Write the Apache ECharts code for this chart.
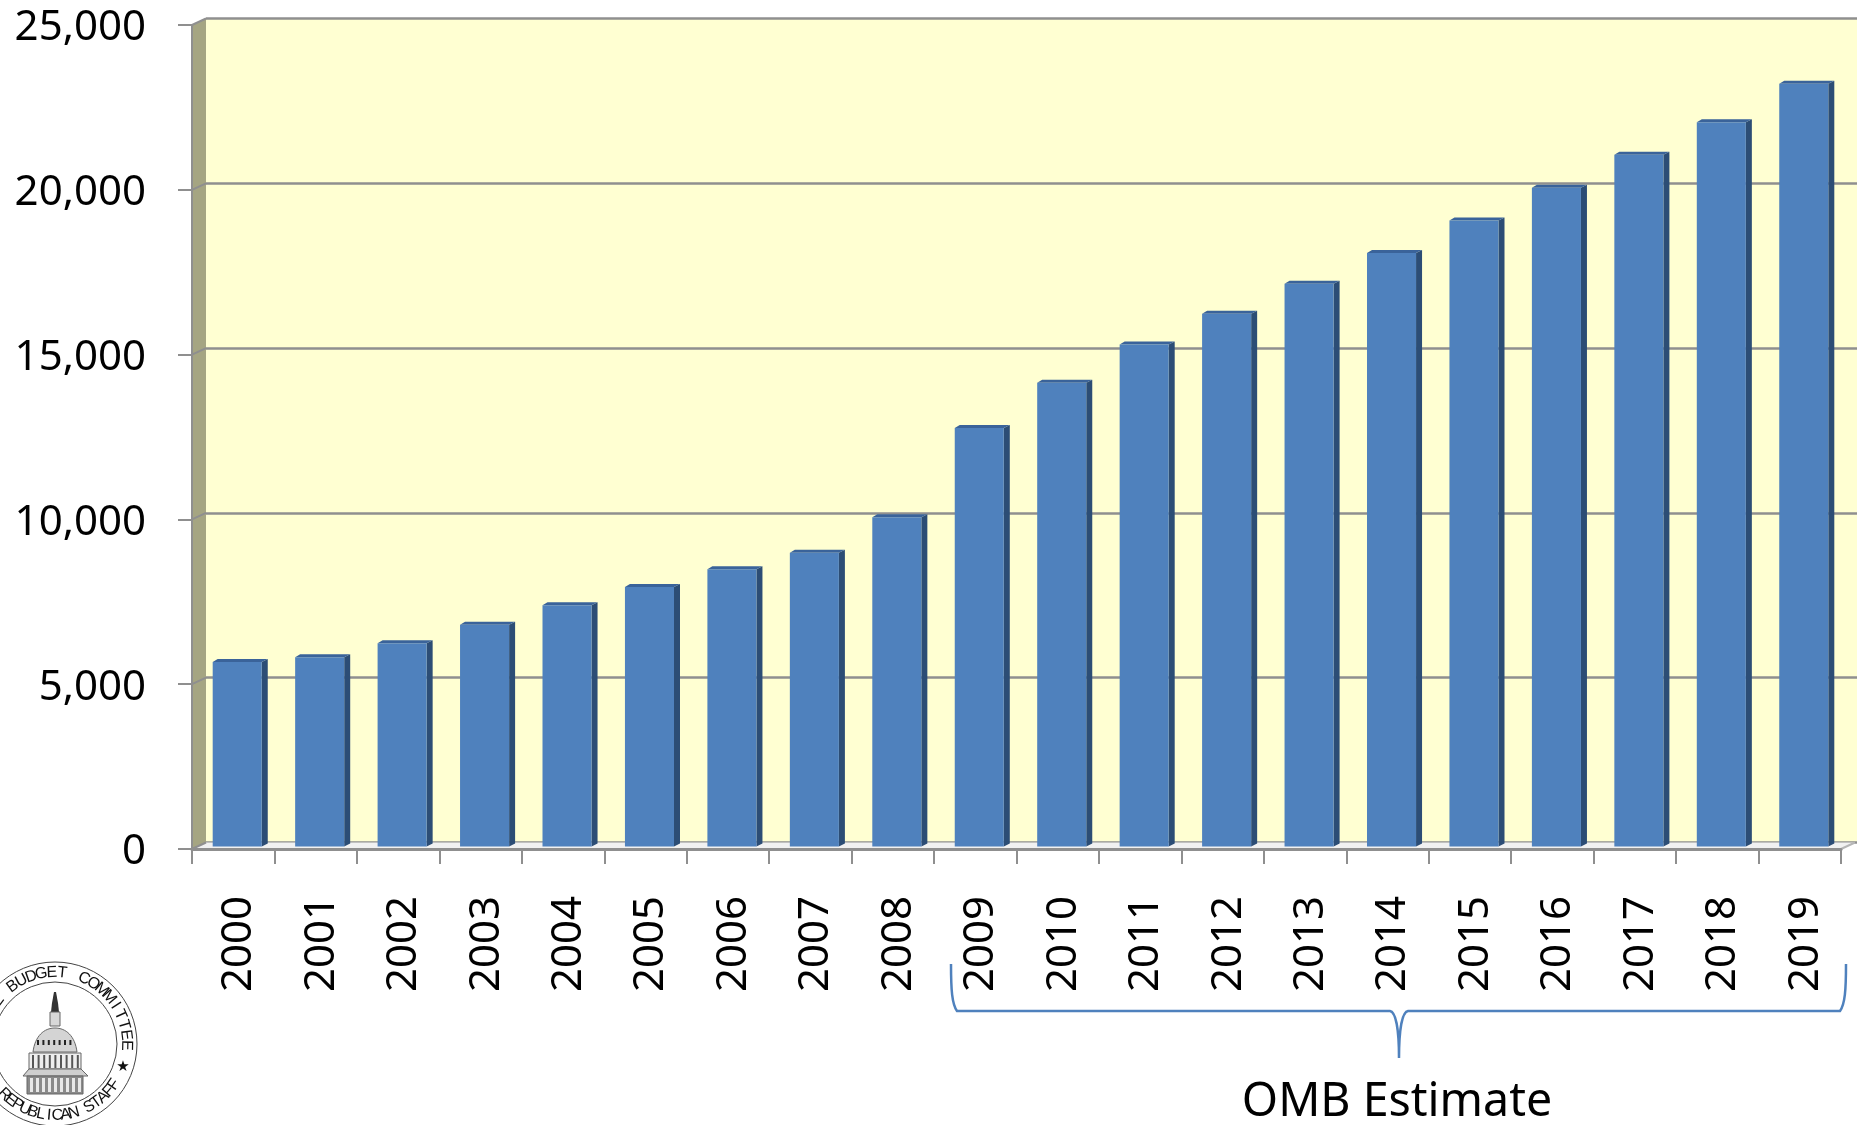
<!DOCTYPE html>
<html>
<head>
<meta charset="utf-8">
<title>OMB Estimate</title>
<style>
html, body { margin: 0; padding: 0; background: #fff; overflow: hidden; }
#main { width: 1865px; height: 1125px; }
</style>
<script src="https://cdn.jsdelivr.net/npm/echarts@6/dist/echarts.min.js"></script>
</head>
<body>
<div id="main"></div>
<script>
var years = ['2000', '2001', '2002', '2003', '2004', '2005', '2006', '2007', '2008', '2009',
	'2010', '2011', '2012', '2013', '2014', '2015', '2016', '2017', '2018', '2019'];
var debtValues = [5600, 5740, 6170, 6730, 7320, 7870, 8410, 8910, 9990, 12700,
	14070, 15230, 16160, 17070, 18010, 18990, 19990, 20990, 21970, 23140];
var yTicks = [0, 5000, 10000, 15000, 20000, 25000];
var braceLabel = 'OMB Estimate';

var labelFont = '"Noto Sans", sans-serif';
var gridGray = '#8f8f8f';
var depthX = 14, depthY = -6.5; // front plane to back wall

/* 柱子：正面、右侧面、顶面 */
function renderBar(params, api) {
	var top = api.coord([api.value(0), api.value(1)]);
	var base = api.coord([api.value(0), 0]);
	var w = api.size([1, 0])[0] * 0.595;
	var x0 = top[0] - w / 2 + 4, x1 = x0 + w;
	var t = top[1] - 2.5, b = base[1] - 2.5;
	return {
		type: 'group',
		children: [
			{ type: 'polygon', shape: { points: [[x1, t], [x1 + 6, t - 3], [x1 + 6, b - 3], [x1, b]] }, style: { fill: '#2c4d75' } },
			{ type: 'polygon', shape: { points: [[x0, t], [x0 + 5, t - 3], [x1 + 6, t - 3], [x1, t]] }, style: { fill: '#3a639a' } },
			{ type: 'rect', shape: { x: x0, y: t, width: w, height: b - t }, style: { fill: '#4f81bd' } }
		]
	};
}

/* 左侧墙和地面 */
function renderFrame(params, api) {
	var rect = params.coordSys;
	var l = rect.x, r = rect.x + rect.width, t = rect.y, b = rect.y + rect.height;
	var kids = [
		{ type: 'polygon', shape: { points: [[l, b], [l + depthX, b + depthY], [r + depthX, b + depthY], [r, b]] }, style: { fill: '#f1f1f1' } },
		{ type: 'polygon', shape: { points: [[l, t], [l + depthX, t + depthY], [l + depthX, b + depthY], [l, b]] }, style: { fill: '#a5a582' } },
		{ type: 'line', shape: { x1: r, y1: b, x2: r + depthX, y2: b + depthY }, style: { stroke: '#b5b5b5', lineWidth: 2 } }
	];
	for (var i = 0; i < yTicks.length; i++) {
		var p = api.coord([0, yTicks[i]]);
		kids.push({ type: 'line', shape: { x1: l, y1: p[1], x2: l + depthX, y2: p[1] + depthY }, style: { stroke: gridGray, lineWidth: 2 } });
	}
	return { type: 'group', children: kids };
}

/* 左下角印章 */
function sealParts() {
	var cx = 55, cy = 1044, kids = [];
	kids.push({ type: 'circle', shape: { cx: cx, cy: cy, r: 82 }, style: { fill: '#fff', stroke: '#444', lineWidth: 1 } });
	kids.push({ type: 'circle', shape: { cx: cx, cy: cy, r: 62 }, style: { fill: '#fff', stroke: '#444', lineWidth: 1 } });
	function arcText(str, startDeg, stepDeg, radius, flip) {
		for (var i = 0; i < str.length; i++) {
			if (str[i] == ' ') continue;
			var deg = startDeg + stepDeg * i, a = deg * Math.PI / 180;
			kids.push({
				type: 'text',
				x: cx + radius * Math.sin(a),
				y: cy - radius * Math.cos(a),
				rotation: flip ? -(deg - 180) * Math.PI / 180 : -a,
				style: { text: str[i], font: '16px "Liberation Sans", sans-serif', fill: '#111', align: 'center', verticalAlign: 'middle' }
			});
		}
	}
	arcText('E BUDGET', -53, 8.4, 71.5);
	arcText('COMMITTEE', 24, 8.4, 71.5);
	arcText('REPUBLICAN STAFF', 225, -6.7, 71.5, true);
	kids.push({ type: 'text', x: 123, y: 1067, style: { text: '★', font: '15px "DejaVu Sans", sans-serif', fill: '#111', align: 'center', verticalAlign: 'middle' } });
	// 国会大厦
	kids.push({ type: 'polygon', shape: { points: [[54, 992], [56, 992], [58, 1003], [59, 1012], [51, 1012], [52, 1003]] }, style: { fill: '#333' } });
	kids.push({ type: 'rect', shape: { x: 50, y: 1012, width: 10, height: 14 }, style: { fill: '#d8d8d8', stroke: '#666', lineWidth: 1 } });
	kids.push({ type: 'path', shape: { pathData: 'M33 1052 C35 1036 44 1028 55 1028 C66 1028 75 1036 77 1052 Z' }, style: { fill: '#d4d4d4', stroke: '#666', lineWidth: 1 } });
	for (var i = 0; i < 7; i++) {
		kids.push({ type: 'rect', shape: { x: 37 + i * 5.4, y: 1040, width: 2, height: 5 }, style: { fill: '#222' } });
	}
	kids.push({ type: 'rect', shape: { x: 29, y: 1053, width: 52, height: 16 }, style: { fill: '#eee', stroke: '#666', lineWidth: 1 } });
	kids.push({ type: 'polygon', shape: { points: [[29, 1069], [81, 1069], [88, 1076], [23, 1076]] }, style: { fill: '#cfcfcf', stroke: '#666', lineWidth: 1 } });
	kids.push({ type: 'rect', shape: { x: 27, y: 1076, width: 56, height: 18 }, style: { fill: '#8a8a8a', stroke: '#666', lineWidth: 1 } });
	for (var j = 0; j < 9; j++) {
		kids.push({ type: 'rect', shape: { x: 32 + j * 5.6, y: 1055, width: 2, height: 13 }, style: { fill: '#555' } });
		kids.push({ type: 'rect', shape: { x: 30 + j * 6, y: 1078, width: 3, height: 14 }, style: { fill: '#e8e8e8' } });
	}
	return kids;
}

/* 印章、大括号和说明文字 */
function renderNotes() {
	var kids = sealParts();
	kids.push({
		type: 'path',
		shape: { pathData: 'M951 964 C951 990 952 1004 957 1011 L1390 1011 C1396 1012 1399 1030 1399 1058 C1399 1030 1402 1012 1408 1011 L1840 1011 C1845 1004 1846 990 1846 964' },
		style: { fill: 'none', stroke: '#4f81bd', lineWidth: 2.5 }
	});
	kids.push({
		type: 'text',
		x: 1397,
		y: 1103,
		style: { text: braceLabel, font: '46.5px ' + labelFont, fill: '#000', align: 'center', verticalAlign: 'middle' }
	});
	return { type: 'group', children: kids };
}

var chart = echarts.init(document.getElementById('main'), null, { renderer: 'canvas' });
chart.setOption({
	animation: false,
	backgroundColor: '#fff',
	grid: [
		{ left: 192, top: 25, width: 1649, height: 824 },
		{ left: 206, top: 18.5, width: 1651, height: 824, show: true, backgroundColor: '#ffffd2', borderWidth: 0 }
	],
	xAxis: [{
		gridIndex: 0,
		type: 'category',
		data: years,
		z: 5,
		axisLine: { lineStyle: { color: gridGray, width: 3 } },
		axisTick: { show: true, alignWithLabel: false, length: 15, lineStyle: { color: gridGray, width: 2 } },
		axisLabel: { rotate: 90, interval: 0, margin: 47, verticalAlign: 'top', lineHeight: 12, color: '#000', fontFamily: labelFont, fontSize: 42 }
	}, {
		gridIndex: 1,
		type: 'category',
		data: years,
		show: false
	}],
	yAxis: [{
		gridIndex: 0,
		type: 'value',
		min: 0,
		max: 25000,
		interval: 5000,
		z: 5,
		splitLine: { show: false },
		axisLine: { show: true, lineStyle: { color: gridGray, width: 2 } },
		axisTick: { show: true, length: 14, lineStyle: { color: gridGray, width: 2 } },
		axisLabel: {
			margin: 46,
			verticalAlign: 'top',
			lineHeight: 7,
			color: '#000',
			fontFamily: labelFont,
			fontSize: 42,
			formatter: function (v) { return v.toLocaleString('en-US'); }
		}
	}, {
		gridIndex: 1,
		type: 'value',
		min: 0,
		max: 25000,
		interval: 5000,
		axisLine: { show: false },
		axisTick: { show: false },
		axisLabel: { show: false },
		splitLine: { show: true, lineStyle: { color: gridGray, width: 2.5 } }
	}],
	series: [{
		type: 'custom',
		name: 'frame',
		xAxisIndex: 0,
		yAxisIndex: 0,
		z: 3,
		silent: true,
		data: [[0, 0]],
		clip: false,
		renderItem: renderFrame
	}, {
		type: 'custom',
		name: 'debt',
		xAxisIndex: 0,
		yAxisIndex: 0,
		z: 4,
		clip: false,
		encode: { x: 0, y: 1 },
		data: debtValues.map(function (v, i) { return [i, v]; }),
		renderItem: renderBar
	}, {
		type: 'custom',
		name: 'notes',
		xAxisIndex: 0,
		yAxisIndex: 0,
		z: 10,
		silent: true,
		data: [[0, 0]],
		clip: false,
		renderItem: renderNotes
	}]
});
</script>
</body>
</html>
